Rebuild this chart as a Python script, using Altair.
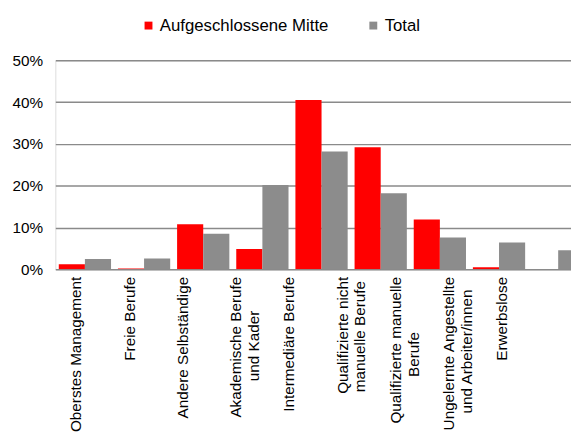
import altair as alt
import pandas as pd

NB = "\u00a0"
END = "\u200b"
categories = [
    "Oberstes Management",
    "Freie Berufe",
    "Andere Selbständige",
    "Akademische Berufe\nund Kader" + NB * 8 + END,
    "Intermediäre Berufe",
    "Qualifizierte nicht\nmanuelle Berufe" + NB * 1 + END,
    "Qualifizierte manuelle\nBerufe" + NB * 13 + END,
    "Ungelernte Angestellte\nund Arbeiter/innen" + NB * 3 + END,
    "Erwerbslose",
]
series = ["Aufgeschlossene Mitte", "Total"]
mitte = [1.2, 0.2, 10.8, 4.9, 40.5, 29.2, 11.9, 0.5, 0.0]
total = [2.5, 2.6, 8.5, 20.2, 28.2, 18.2, 7.6, 6.4, 4.6]
colors = ["#FF0000", "#8C8C8C"]
y_ticks = [0, 0.1, 0.2, 0.3, 0.4, 0.5]

rows = []
for c, m, t in zip(categories, mitte, total):
    rows.append({"cat": c, "series": series[0], "value": m / 100})
    rows.append({"cat": c, "series": series[1], "value": t / 100})
df = pd.DataFrame(rows)

FONT = "Liberation Sans"

bars = alt.Chart(df).mark_bar(clip=True).encode(
    x=alt.X("cat:N", sort=categories, axis=None,
            scale=alt.Scale(range=[0, 540], paddingInner=7 / 60, paddingOuter=3.5 / 60,
                            round=False)),
    xOffset=alt.XOffset("series:N", sort=series,
                        scale=alt.Scale(paddingInner=0, paddingOuter=0, round=False)),
    y=alt.Y("value:Q", scale=alt.Scale(domain=[0, 0.5]),
            axis=alt.Axis(format=".0%", values=y_ticks, title=None, domain=False,
                          ticks=False, labelPadding=13, labelFontSize=15.5,
                          labelColor="#000000", labelFont=FONT,
                          gridColor="#8A8A8A", gridWidth=1.5, gridOpacity=1)),
    color=alt.Color("series:N", sort=series,
                    scale=alt.Scale(domain=series, range=colors),
                    legend=alt.Legend(title=None, orient="none", legendX=86, legendY=-44,
                                      direction="horizontal", symbolType="square",
                                      symbolSize=64, symbolStrokeWidth=0,
                                      labelFontSize=17, labelFont=FONT, labelLimit=0,
                                      labelColor="#000000", columnPadding=36,
                                      labelOffset=3, padding=0)),
)

labels = alt.Chart(pd.DataFrame({"cat": categories})).mark_point(opacity=0).encode(
    x=alt.X("cat:N", sort=categories,
            scale=alt.Scale(type="point", range=[21, 453], padding=0),
            axis=alt.Axis(orient="bottom", title=None, labelAngle=-90, labelAlign="right",
                          labelBaseline="middle", labelPadding=7, ticks=False, tickSize=0,
                          domain=False, grid=False, labelFontSize=15.5, labelFont=FONT,
                          labelColor="#000000", labelLineHeight=18, labelOverlap=False,
                          labelLimit=0, labelExpr="split(datum.value, '\\n')")),
)

chart = alt.layer(labels, bars).resolve_scale(x="independent").properties(
    width=523, height=212,
    autosize=alt.AutoSizeParams(type="none"),
    padding={"left": 48, "top": 50, "right": 0, "bottom": 171},
).configure_view(stroke=None).configure(font=FONT)

chart.save("out.html", embed_options={"renderer": "svg", "actions": False})
